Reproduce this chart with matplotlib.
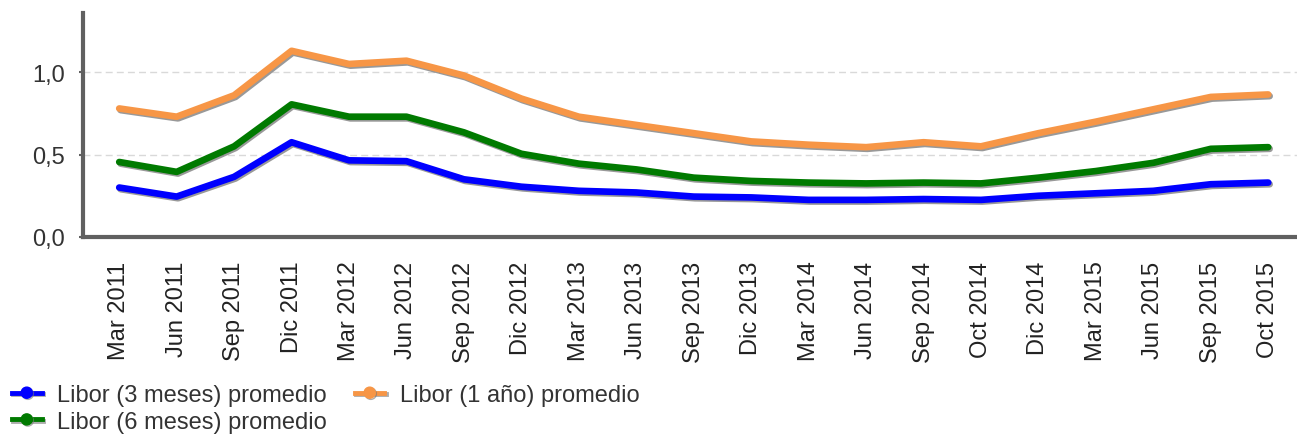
import matplotlib.pyplot as plt
import matplotlib.patheffects as pe

plt.rcParams['font.family'] = ['Liberation Sans', 'DejaVu Sans']

labels = ['Mar 2011', 'Jun 2011', 'Sep 2011', 'Dic 2011', 'Mar 2012', 'Jun 2012', 'Sep 2012',
          'Dic 2012', 'Mar 2013', 'Jun 2013', 'Sep 2013', 'Dic 2013', 'Mar 2014', 'Jun 2014',
          'Sep 2014', 'Oct 2014', 'Dic 2014', 'Mar 2015', 'Jun 2015', 'Sep 2015', 'Oct 2015']
libor_3m = [0.30, 0.245, 0.365, 0.575, 0.465, 0.46, 0.35, 0.305, 0.28, 0.27, 0.245,
            0.24, 0.225, 0.225, 0.23, 0.225, 0.25, 0.265, 0.28, 0.32, 0.33]
libor_6m = [0.455, 0.395, 0.55, 0.805, 0.73, 0.73, 0.635, 0.505, 0.445, 0.41, 0.36,
            0.34, 0.33, 0.325, 0.33, 0.325, 0.36, 0.40, 0.45, 0.535, 0.545]
libor_1y = [0.78, 0.73, 0.86, 1.13, 1.05, 1.07, 0.98, 0.84, 0.73, 0.68, 0.63,
            0.58, 0.56, 0.545, 0.575, 0.55, 0.63, 0.70, 0.775, 0.85, 0.865]

series = [
    ('Libor (3 meses) promedio', libor_3m, '#0000ff'),
    ('Libor (6 meses) promedio', libor_6m, '#007a00'),
    ('Libor (1 año) promedio', libor_1y, '#f79646'),
]

fig = plt.figure(figsize=(12.97, 4.35), dpi=100)
ax = fig.add_axes([0.064, 0.453, 0.936, 0.515])

x = list(range(len(labels)))
shadow = [pe.SimpleLineShadow(offset=(1, -1.2), shadow_color='#555555', alpha=0.6), pe.Normal()]
for name, vals, color in series:
    ax.plot(x, vals, color=color, lw=4.8, solid_capstyle='round', solid_joinstyle='round',
            path_effects=shadow, label=name)

ax.set_xlim(-0.63, 20.5)
ax.set_ylim(0, 1.36)
ax.set_yticks([0, 0.5, 1.0])
ax.set_yticklabels(['0,0', '0,5', '1,0'], fontsize=17, color='#333333')
ax.set_xticks(x)
ax.set_xticklabels(labels, rotation=90, fontsize=17, color='#222222')
ax.tick_params(axis='x', length=0, pad=17)
ax.tick_params(axis='y', length=3, width=1.5, color='#606060', pad=10)

for y in [0.5, 1.0]:
    ax.axhline(y, color='#d9d9d9', lw=1, ls=(0, (5, 3)), zorder=0)

for s in ['top', 'right']:
    ax.spines[s].set_visible(False)
for s in ['left', 'bottom']:
    ax.spines[s].set_color('#606060')
    ax.spines[s].set_linewidth(3)

handles, names = ax.get_legend_handles_labels()
leg_handles = []
for h in handles:
    hh = plt.Line2D([0], [0], color=h.get_color(), lw=3.5, marker='o', markersize=8,
                    path_effects=[pe.SimpleLineShadow(offset=(0.8, -0.8), shadow_color='#777777', alpha=0.6), pe.Normal()])
    leg_handles.append(hh)
fig.legend(leg_handles, names, loc='lower left', bbox_to_anchor=(12 / 1297, 0.003), ncol=2,
           frameon=False, fontsize=17, handlelength=1.25, handletextpad=0.65,
           columnspacing=1.2, labelspacing=0.2, labelcolor='#333333',
           borderpad=0, borderaxespad=0)

fig.savefig('out.png', dpi=100)
